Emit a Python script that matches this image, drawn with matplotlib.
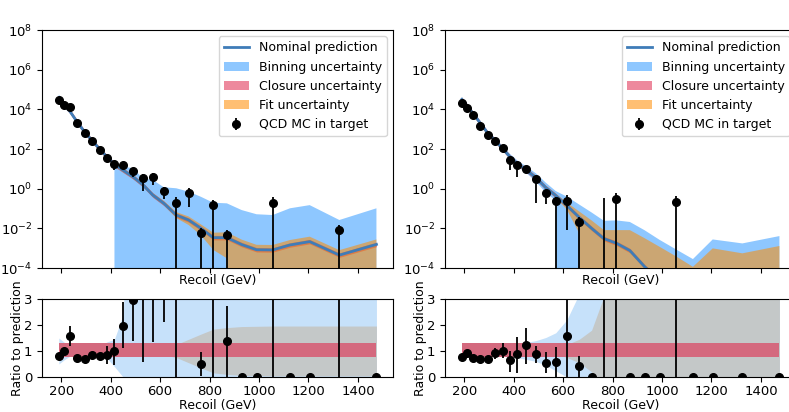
import numpy as np
import matplotlib
matplotlib.use("Agg")
import matplotlib.pyplot as plt
from matplotlib.ticker import NullLocator

inf = np.inf

# bin centres (GeV)
recoil = [190, 210, 235, 265, 295, 325, 355, 385, 415, 450, 490, 530, 570,
          615, 665, 715, 765, 815, 870, 930, 990, 1055, 1125, 1205, 1325, 1475]

# ---------------- left panel ----------------
nominal_L_log10 = [4.55, 4.25, 3.9, 3.35, 2.85, 2.42, 2.0, 1.6, 1.22, 0.93, 0.6, 0.2, -0.32,
                   -0.74, -1.33, -1.58, -2.0, -2.47, -2.47, -2.82, -3.08, -3.09, -2.84, -2.67, -3.35, -2.81]
binning_up_L_log10 = [4.75, 4.4, 4.0, 3.45, 2.95, 2.5, 2.08, 1.7, 1.36, 1.11, 1.03, 0.52, 0.44,
                      0.07, 0.02, -0.15, -0.41, -0.71, -0.74, -1.08, -1.29, -1.33, -0.99, -0.83, -1.58, -0.99]
binning_dn_L_log10 = [4.3, 4.1, 3.8, 3.25, 2.75, 2.33, 1.9, 1.5, 1.07] + [-inf] * 17
fit_up_L_dex = [0.1] * 13 + [0.12, 0.15, 0.18, 0.2, 0.25, 0.27, 0.25, 0.25, 0.25, 0.25, 0.25, 0.25, 0.25]
fit_dn_L_dex = [0.1] * 13 + [0.1, 0.15, 0.25, 0.35, 0.62, 1.04] + [inf] * 7

qcd_L = [2.95e4, 1.6e4, 1.35e4, 1.95e3, 620, 250, 90, 36, 17, 15, 8.1, 3.3, 4.0,
         0.76, 0.195, 0.62, 5.5e-3, 0.148, 4.4e-3, 0, 0, 0.195, 0, 0, 8.1e-3, 0]
qcd_err_lo_L = [3000, 1600, 1300, 200, 60, 25, 9, 4, 8.3, 3, 4.0, 2.5, 2.5,
                0.45, 0.195, 0.5, 5.5e-3, 0.148, 4.4e-3, 0, 0, 0.195, 0, 0, 8.1e-3, 0]
qcd_err_hi_L = [3000, 1600, 1300, 200, 60, 25, 9, 4, 3, 3, 1.5, 2.5, 2.5,
                0.45, 0.2, 0.5, 4.5e-3, 0.11, 4.3e-3, 0, 0, 0.2, 0, 0, 6.4e-3, 0]

ratio_L = [0.80, 1.0, 1.59, 0.74, 0.70, 0.86, 0.79, 0.86, 0.99, 1.96, 2.96, 5, 5,
           5, 5, np.nan, 0.49, 10, 1.38, 0, 0, 10, 0, 0, 10, 0]
ratio_err_lo_L = [0.05, 0.05, 0.4, 0.05, 0.05, 0.05, 0.05, 0.36, 0.54, 0.86, 1.56, 4.41, 3.64,
                  2.89, 20, np.nan, 0.44, 20, 1.38, 0, 0, 20, 0, 0, 20, 0]
ratio_err_hi_L = [0.05, 0.05, 0.36, 0.05, 0.05, 0.05, 0.05, 0.34, 0.46, 0.94, 1, 5, 5,
                  5, 20, np.nan, 0.46, 20, 1.37, 0, 0, 20, 0, 0, 20, 0]
ratio_binning_up_L = [1.5, 1.35, 1.22, 1.18, 1.18, 1.18, 1.2, 1.35, 1.45, 2.4] + [10] * 16
ratio_binning_dn_L = [0.5, 0.65, 0.8, 0.84, 0.84, 0.84, 0.82, 0.72, 0.4] + [0] * 17
ratio_fit_L = [0.1] * 13 + [0.15, 0.25, 0.45, 0.65, 0.84, 0.9, 0.94, 0.95, 0.96, 0.96, 0.96, 0.96, 0.96]

# ---------------- right panel ----------------
nominal_R_log10 = [4.5, 4.2, 3.8, 3.3, 2.8, 2.42, 2.02, 1.6, 1.25, 0.95, 0.55, 0.05, -0.35,
                   -0.85, -1.45, -2.0, -2.52, -2.75, -3.12, -3.94, -4.6, -5.0, -5.4, -5.2, -5.4, -5.3]
binning_up_R_log10 = [4.62, 4.32, 3.92, 3.42, 2.92, 2.55, 2.15, 1.75, 1.42, 1.13, 0.77, 0.3, -0.12,
                      -0.4, -0.8, -1.2, -1.62, -1.6, -1.68, -2.1, -2.58, -3.05, -3.55, -2.56, -2.76, -2.39]
binning_dn_R_log10 = [4.4, 4.1, 3.7, 3.2, 2.7, 2.32, 1.92, 1.5, 1.12, 0.8, 0.35, -0.2, -0.6] + [-inf] * 13
fit_up_R_dex = [0.1] * 13 + [0.15, 0.3, 0.4, 0.43, 0.66, 1.03, 1.44, 1.67, 1.6, 1.46, 2.19, 2.14, 2.41]
fit_dn_R_dex = [0.1] * 13 + [0.2, 0.8] + [inf] * 11

qcd_R = [2.0e4, 1.12e4, 5.1e3, 1.48e3, 513, 251, 107, 27.5, 15.1, 9.8, 3.1, 0.575, 0.24,
         0.24, 0.0214, 0, -0.3, 0.31, 0, 0, 0, 0.22, 0, 0, 0, 0]
qcd_err_lo_R = [2000, 1000, 500, 150, 50, 25, 12, 19, 11.4, 3.9, 2.9, 0.4, 0.24,
                0.232, 0.0214, 0, 1.0, 0.31, 0, 0, 0, 0.22, 0, 0, 0, 0]
qcd_err_hi_R = [2000, 1000, 500, 150, 50, 25, 12, 3, 3, 2, 1, 0.3, 0.16,
                0.24, 0.0175, 0, 0.65, 0.27, 0, 0, 0, 0.21, 0, 0, 0, 0]

ratio_R = [0.76, 0.91, 0.75, 0.68, 0.68, 0.91, 1.01, 0.66, 0.89, 1.24, 0.89, 0.54, 0.58,
           1.57, 0.44, 0, -5, 10, 0, 0, 0, 10, 0, 0, 0, 0]
ratio_err_lo_R = [0.04, 0.06, 0.04, 0.04, 0.04, 0.21, 0.26, 0.46, 0.74, 0.74, 0.34, 0.39, 0.58,
                  1.57, 0.44, 0, 20, 20, 0, 0, 0, 20, 0, 0, 0, 0]
ratio_err_hi_R = [0.04, 0.06, 0.04, 0.04, 0.04, 0.19, 0.29, 0.34, 0.66, 0.66, 0.31, 0.41, 0.57,
                  5, 0.36, 0, 20, 20, 0, 0, 0, 20, 0, 0, 0, 0]
ratio_binning_up_R = [1.15, 1.12, 1.1, 1.1, 1.1, 1.12, 1.15, 1.2, 1.27, 1.33, 1.4, 1.52, 1.7,
                      2.2, 3.2] + [10] * 11
ratio_binning_dn_R = [0.85, 0.88, 0.9, 0.9, 0.9, 0.88, 0.85, 0.8, 0.74, 0.68, 0.6, 0.45, 0.24] + [0] * 13
ratio_fit_R = [0.1] * 13 + [0.25, 0.45, 0.8, 2.1] + [5] * 9

closure_up = 1.3
closure_dn = 0.77

xticks = [200, 400, 600, 800, 1000, 1200, 1400]
yticks_top = [1e-4, 1e-2, 1e0, 1e2, 1e4, 1e6, 1e8]


def p10(a):
    return np.power(10.0, np.asarray(a, dtype=float))


W, H = 789, 412
fig = plt.figure(figsize=(W / 100, H / 100), dpi=100)


def rect(l, t, r, b):
    return [l / W, 1 - b / H, (r - l) / W, (b - t) / H]


LINE_C = "#3f7cb8"


def draw(ax, axr, nom_log, bup, bdn, fup, fdn, vals, elo, ehi,
         rat, rlo, rhi, rbup, rbdn, rfit):
    x = np.asarray(recoil, dtype=float)
    nom = p10(nom_log)
    ax.set_yscale("log")
    ax.plot(x, nom, color=LINE_C, lw=2, zorder=4, label="Nominal prediction")
    ax.fill_between(x, p10(bdn), p10(bup), color="dodgerblue", alpha=0.5, lw=0,
                    zorder=1, label="Binning uncertainty")
    ax.fill_between(x, nom * closure_dn, nom * closure_up, color="crimson", alpha=0.5,
                    lw=0, zorder=2, label="Closure uncertainty")
    ax.fill_between(x, nom * p10(-np.asarray(fdn)), nom * p10(fup), color="darkorange",
                    alpha=0.55, lw=0, zorder=3, label="Fit uncertainty")
    ax.errorbar(x, vals, yerr=[elo, ehi], fmt="o", color="black", ms=5.5,
                elinewidth=1.3, capsize=0, zorder=5, label="QCD MC in target")
    ax.set_ylim(1e-4, 1e8)
    ax.set_yticks(yticks_top)
    ax.yaxis.set_minor_locator(NullLocator())
    ax.set_xticks(xticks)
    ax.tick_params(labelbottom=False, labelsize=9.5)
    ax.set_xlabel("Recoil (GeV)", fontsize=9, labelpad=1)
    ax.set_xlim(122, 1542)
    ax.legend(loc="upper right", fontsize=9)

    axr.fill_between(x, rbdn, rbup, color="#c6e1fa", lw=0, zorder=1)
    axr.fill_between(x, 1 - np.asarray(rfit), 1 + np.asarray(rfit), color="#c4c8c8", lw=0, zorder=2)
    axr.fill_between(x, np.full(len(x), closure_dn), np.full(len(x), closure_up),
                     color="#d4697e", lw=0, zorder=3)
    axr.errorbar(x, rat, yerr=[rlo, rhi], fmt="o", color="black", ms=5.5,
                 elinewidth=1.3, capsize=0, zorder=5)
    axr.set_ylim(0, 3)
    axr.set_yticks([0, 1, 2, 3])
    axr.set_xticks(xticks)
    axr.set_xlim(122, 1542)
    axr.tick_params(labelsize=9.5)
    axr.tick_params(axis="x", pad=2.5)
    axr.set_xlabel("Recoil (GeV)", fontsize=9, labelpad=0.5)
    axr.set_ylabel("Ratio to prediction", fontsize=9, labelpad=0)


axTL = fig.add_axes(rect(42, 30, 393, 268))
axBL = fig.add_axes(rect(42, 299, 393, 377))
axTR = fig.add_axes(rect(445, 30, 796, 268))
axBR = fig.add_axes(rect(445, 299, 796, 377))

draw(axTL, axBL, nominal_L_log10, binning_up_L_log10, binning_dn_L_log10, fit_up_L_dex, fit_dn_L_dex,
     qcd_L, qcd_err_lo_L, qcd_err_hi_L, ratio_L, ratio_err_lo_L, ratio_err_hi_L,
     ratio_binning_up_L, ratio_binning_dn_L, ratio_fit_L)
draw(axTR, axBR, nominal_R_log10, binning_up_R_log10, binning_dn_R_log10, fit_up_R_dex, fit_dn_R_dex,
     qcd_R, qcd_err_lo_R, qcd_err_hi_R, ratio_R, ratio_err_lo_R, ratio_err_hi_R,
     ratio_binning_up_R, ratio_binning_dn_R, ratio_fit_R)

fig.savefig("out.png", dpi=100)
